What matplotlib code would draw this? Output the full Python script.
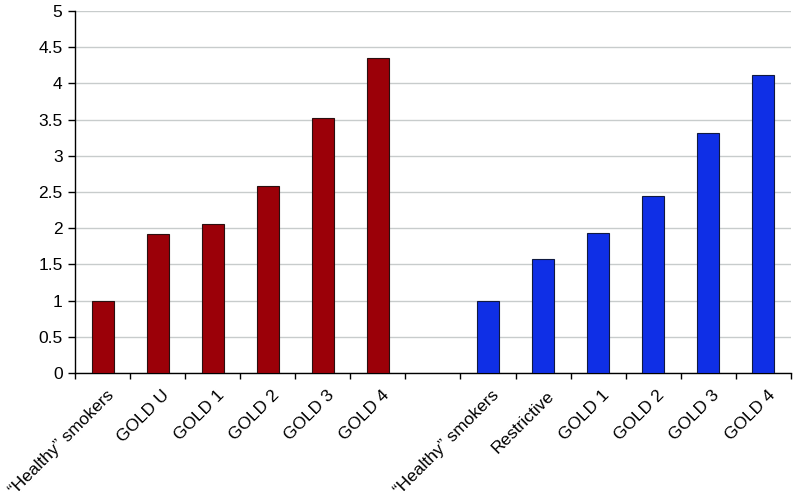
import numpy as np
import matplotlib.pyplot as plt
import matplotlib.transforms as mtransforms
from matplotlib.ticker import FixedLocator

plt.rcParams['font.family'] = ['Liberation Sans', 'DejaVu Sans']

# categories (empty slot between the two groups)
labels = ['\u201cHealthy\u201d smokers', 'GOLD U', 'GOLD 1', 'GOLD 2', 'GOLD 3', 'GOLD 4',
          '',
          '\u201cHealthy\u201d smokers', 'Restrictive', 'GOLD 1', 'GOLD 2', 'GOLD 3', 'GOLD 4']
red_values = [1.0, 1.92, 2.06, 2.58, 3.52, 4.35]
blue_values = [1.0, 1.58, 1.94, 2.44, 3.32, 4.11]
y_ticks = [0, 0.5, 1, 1.5, 2, 2.5, 3, 3.5, 4, 4.5, 5]

red_color = '#9b0008'
blue_color = '#0f2fe6'

fig = plt.figure(figsize=(7.94, 5.01), dpi=100)
ax = fig.add_axes([0.0945, 0.2555, 0.9015, 0.7225])

x = np.arange(len(labels))
ax.bar(x[:6], red_values, width=0.4, color=red_color, edgecolor='#2a1010', linewidth=0.8, zorder=3)
ax.bar(x[7:], blue_values, width=0.4, color=blue_color, edgecolor='#101a40', linewidth=0.8, zorder=3)

ax.set_xlim(-0.5, len(labels) - 0.5)
ax.set_ylim(0, 5)
ax.yaxis.set_major_locator(FixedLocator(y_ticks))
ax.set_yticklabels([f'{v:g}' for v in y_ticks])
ax.grid(axis='y', color='#c8cccc', linewidth=1.0, zorder=0)

# ticks at category boundaries, labels at centers
ax.xaxis.set_major_locator(FixedLocator(np.arange(-0.5, len(labels), 1.0)))
ax.set_xticklabels([])
ax.xaxis.set_minor_locator(FixedLocator(x))
ax.set_xticklabels(labels, minor=True, rotation=45, ha='right', va='center',
                   rotation_mode='anchor', fontsize=12.5)
ax.tick_params(axis='x', which='minor', length=0, pad=14.5)
ax.tick_params(axis='x', which='major', length=4.5, width=1, color='black')
ax.tick_params(axis='y', length=5, width=1, pad=4, labelsize=12.5, color='black')

# nudge rotated labels a little to the right
shift = mtransforms.ScaledTranslation(6.5 / 72, 0, fig.dpi_scale_trans)
for lbl in ax.get_xticklabels(minor=True):
    lbl.set_transform(lbl.get_transform() + shift)

for side in ['top', 'right']:
    ax.spines[side].set_visible(False)
for side in ['left', 'bottom']:
    ax.spines[side].set_color('black')
    ax.spines[side].set_linewidth(1.0)

fig.savefig('out.png', dpi=100)
